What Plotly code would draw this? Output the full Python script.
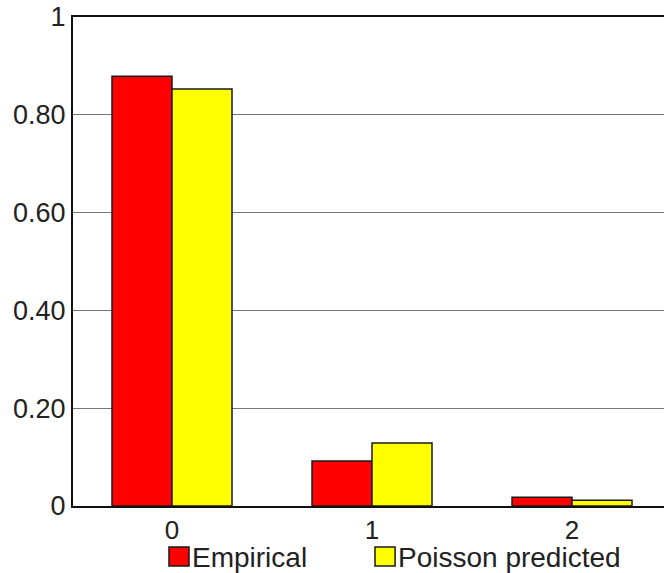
import plotly.graph_objects as go

# Observed vs Poisson-predicted proportions by count
counts = ["0", "1", "2"]
empirical = [0.879, 0.092, 0.018]
poisson_predicted = [0.853, 0.129, 0.012]
series_names = ["Empirical", "Poisson predicted"]
y_ticks = [0, 0.2, 0.4, 0.6, 0.8, 1.0]
y_tick_labels = ["0", "0.20", "0.40", "0.60", "0.80", "1"]

colors = ["#ff0000", "#ffff00"]
font_family = "Liberation Sans, Arial, sans-serif"

fig = go.Figure()
for name, vals, col in zip(series_names, [empirical, poisson_predicted], colors):
    fig.add_trace(go.Bar(
        x=[0, 1, 2], y=vals, name=name,
        marker=dict(color=col, line=dict(color="#1a1a1a", width=1.5)),
        showlegend=False,
    ))

# Hand-built legend below the axis
legend_items = [(0.1624, 0.1963, 0.1995, series_names[0], colors[0]),
                (0.511, 0.545, 0.5475, series_names[1], colors[1])]
for x0, x1, xt, label, col in legend_items:
    fig.add_shape(type="rect", xref="paper", yref="paper",
                  x0=x0, x1=x1, y0=-0.1227, y1=-0.0838,
                  fillcolor=col, line=dict(color="#1a1a1a", width=1.5))
    fig.add_annotation(xref="paper", yref="paper", x=xt, y=-0.105,
                       text=label, showarrow=False, xanchor="left", yanchor="middle",
                       borderpad=0,
                       font=dict(size=28, color="#222", family=font_family))

fig.update_layout(
    width=664, height=573,
    margin=dict(l=73, r=0, t=17, b=67),
    paper_bgcolor="white", plot_bgcolor="white",
    barmode="group", bargap=0.4, bargroupgap=0,
    font=dict(family=font_family, size=27, color="#222"),
    xaxis=dict(
        range=[-0.495, 2.46],
        tickvals=[0, 1, 2], ticktext=counts,
        showline=True, linecolor="#111", linewidth=2, mirror=True,
        showgrid=False, zeroline=False, ticks="",
        tickfont=dict(size=26),
    ),
    yaxis=dict(
        range=[0, 1],
        tickvals=y_ticks, ticktext=y_tick_labels,
        showline=True, linecolor="#111", linewidth=2,
        showgrid=True, gridcolor="#777", gridwidth=1,
        zeroline=False, ticks="",
    ),
)

fig.write_html("out.html")
